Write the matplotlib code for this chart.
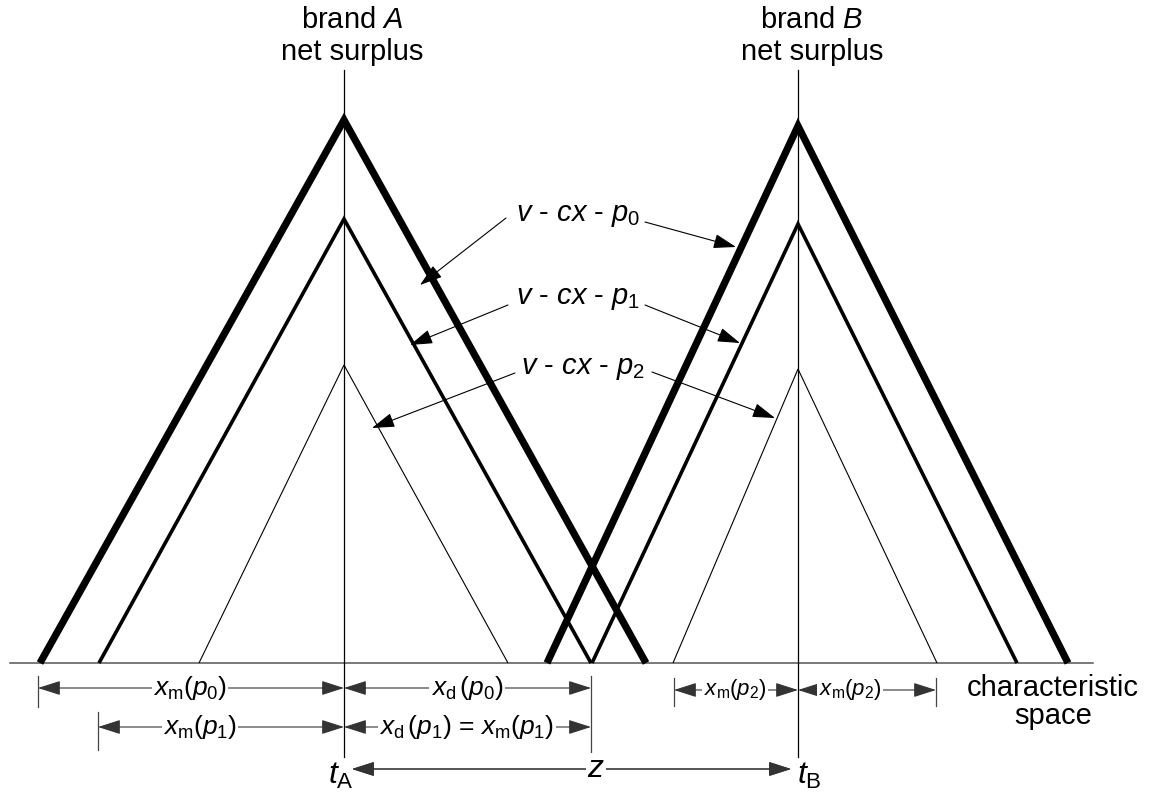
import matplotlib.pyplot as plt

plt.rcParams['font.family'] = ['Liberation Sans', 'DejaVu Sans']
plt.rcParams['mathtext.fontset'] = 'custom'
plt.rcParams['mathtext.rm'] = 'Liberation Sans'
plt.rcParams['mathtext.it'] = 'Liberation Sans:italic'

# characteristic space positions of the two brands
brand_x = {'A': 344, 'B': 798}
# net surplus at the brand location for prices p0, p1, p2
peak_A = [543, 444, 298]
peak_B = [537, 439, 294]
# where each surplus line hits zero (left, right)
base_A = [(40, 646), (99, 591), (199, 508)]
base_B = [(547, 1068), (592, 1017), (673, 937)]
widths = [5.2, 2.6, 0.8]

price_labels = [r'$v$ - $cx$ - $p_0$', r'$v$ - $cx$ - $p_1$', r'$v$ - $cx$ - $p_2$']
label_pos = [(578, 448), (578, 365), (583, 295)]
left_arrows = [((506, 445), (420, 378)), ((508, 358), (410, 318)), ((515, 290), (372, 235))]
right_arrows = [((645, 441), (736, 416)), ((645, 358), (740, 320)), ((652, 291), (775, 245))]

fig = plt.figure(figsize=(11.51, 7.97), dpi=100)
ax = fig.add_axes([0, 0, 1, 1])
ax.set_xlim(0, 1151)
ax.set_ylim(-134, 663)
ax.axis('off')

# baseline and brand axes
ax.plot([10, 1093], [0, 0], color='#555555', lw=1.1)
for b in ['A', 'B']:
    ax.plot([brand_x[b]] * 2, [-94, 593], color='black', lw=0.9)

for peaks, bases, bx in [(peak_A, base_A, brand_x['A']), (peak_B, base_B, brand_x['B'])]:
    for h, (l, r), w in zip(peaks, bases, widths):
        ax.plot([l, bx, r], [0, h, 0], color='black', lw=w, solid_joinstyle='miter',
                solid_capstyle='butt')

fs = 21
ax.text(352, 643, 'brand $A$', ha='center', va='center', fontsize=fs)
ax.text(352, 611, 'net surplus', ha='center', va='center', fontsize=fs)
ax.text(812, 643, 'brand $B$', ha='center', va='center', fontsize=fs)
ax.text(812, 611, 'net surplus', ha='center', va='center', fontsize=fs)

arr = dict(arrowstyle='-|>,head_length=1.0,head_width=0.32', color='black', lw=0.8,
           mutation_scale=14, shrinkA=0, shrinkB=0)
for lab, pos, la, ra in zip(price_labels, label_pos, left_arrows, right_arrows):
    ax.text(pos[0], pos[1], lab, ha='center', va='center', fontsize=21)
    ax.annotate('', xy=la[1], xytext=la[0], arrowprops=arr)
    ax.annotate('', xy=ra[1], xytext=ra[0], arrowprops=arr)

# dimension ticks
ticks = [(38, -13, -44), (98, -49, -87), (591, -13, -93), (674, -15, -43), (936, -15, -43)]
for x, y0, y1 in ticks:
    ax.plot([x, x], [y0, y1], color='#444444', lw=0.9)

darr = dict(arrowstyle='<|-|>,head_length=1.0,head_width=0.32', color='#333333', lw=0.8,
            mutation_scale=14, shrinkA=0, shrinkB=0)
box = dict(facecolor='white', edgecolor='none', pad=1)
dims = [
    (38, 344, -25, r'$x_\mathrm{m}(p_0)$', 190, 19),
    (344, 591, -25, r'$x_\mathrm{d}\,(p_0)$', 467, 19),
    (98, 344, -64, r'$x_\mathrm{m}(p_1)$', 200, 19),
    (344, 591, -64, r'$x_\mathrm{d}\,(p_1)$ = $x_\mathrm{m}(p_1)$', 467, 19),
    (674, 798, -27, r'$x_\mathrm{m}(p_2)$', 735, 16),
    (798, 936, -27, r'$x_\mathrm{m}(p_2)$', 850, 16),
]
for x0, x1, y, lab, tx, size in dims:
    ax.annotate('', xy=(x1, y), xytext=(x0, y), arrowprops=darr)
    ax.text(tx, y, lab, ha='center', va='center', fontsize=size, bbox=box)

# distance between brands
ax.annotate('', xy=(352, -106), xytext=(791, -106), arrowprops=darr)
ax.annotate('', xy=(791, -106), xytext=(352, -106), arrowprops=darr)
ax.text(596, -106, '$z$', ha='center', va='center', fontsize=23, bbox=box)
ax.text(341, -113, r'$t_\mathrm{A}$', ha='center', va='center', fontsize=23)
ax.text(809, -113, r'$t_\mathrm{B}$', ha='center', va='center', fontsize=23)

ax.text(1053, -25, 'characteristic', ha='center', va='center', fontsize=fs)
ax.text(1053, -53, 'space', ha='center', va='center', fontsize=fs)

fig.savefig('out.png', dpi=100)
